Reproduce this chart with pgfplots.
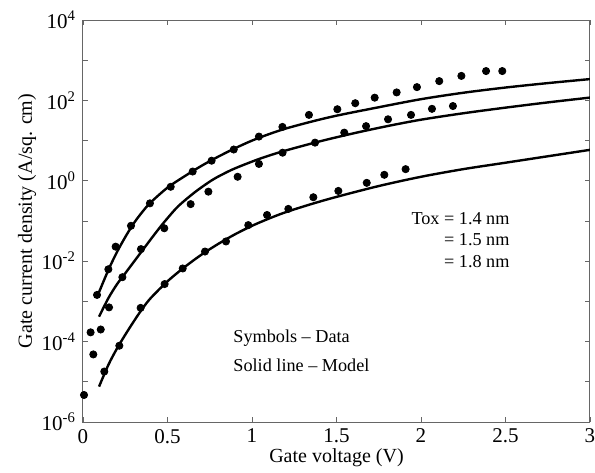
\documentclass[border=0pt]{standalone}
\usepackage{fontspec}
\setmainfont{Liberation Serif}
\usepackage{pgfplots}
\pgfplotsset{compat=1.18}

\begin{document}
\begin{tikzpicture}
  \begin{axis}[
    at={(0,0)}, anchor=south west,
    scale only axis, width=253.5pt, height=201pt,
    xmin=0, xmax=3,
    ymode=log, ymin=1e-6, ymax=1e4,
    xtick={0,0.5,1,1.5,2,2.5,3},
    xticklabels={0,0.5,1,1.5,2,2.5,3},
    ytick={1e-6,1e-5,1e-4,1e-3,1e-2,1e-1,1,1e1,1e2,1e3,1e4},
    yticklabels={10\textsuperscript{-6},,10\textsuperscript{-4},,10\textsuperscript{-2},,10\textsuperscript{0},,10\textsuperscript{2},,10\textsuperscript{4}},
    yminorticks=false,
    tick align=inside, major tick length=2.5pt,
    axis line style={gray!80!black, line width=0.5pt},
    every tick/.style={gray!80!black, line width=0.4pt},
    tick label style={font=\fontsize{10.5}{12}\selectfont},
    xlabel={Gate voltage (V)},
    ylabel={Gate current density (A/sq. cm)},
    label style={font=\fontsize{10.6}{12}\selectfont},
    every axis x label/.style={at={(axis description cs:0.5,-0.0896)}, anchor=center},
    every axis y label/.style={at={(axis description cs:-0.1105,0.5)}, rotate=90, anchor=center},
  ]
    % Tox = 1.4 nm data
    \addplot[only marks, mark=*, mark size=1.8pt, black] coordinates {
      (0.045,1.7e-4) (0.083,1.45e-3) (0.150,6.3e-3) (0.193,2.3e-2)
      (0.284,7.6e-2) (0.396,0.275) (0.519,0.71) (0.649,1.7)
      (0.761,3.16) (0.892,6.0) (1.041,12.6) (1.180,21.9)
      (1.337,43.6) (1.505,60.3) (1.611,85.1) (1.726,117)
      (1.856,158) (1.976,214) (2.108,302) (2.239,407)
      (2.385,537) (2.481,537) };
    % Tox = 1.5 nm data
    \addplot[only marks, mark=*, mark size=1.8pt, black] coordinates {
      (0.061,4.8e-5) (0.105,2.0e-4) (0.154,7.1e-4) (0.233,4.0e-3)
      (0.343,2.0e-2) (0.481,6.6e-2) (0.637,0.263) (0.742,0.537)
      (0.915,1.26) (1.041,2.63) (1.181,5.0) (1.373,8.9)
      (1.546,15.8) (1.675,22.9) (1.805,33.9) (1.941,43.6)
      (2.065,61.7) (2.189,72.4) };
    % Tox = 1.8 nm data
    \addplot[only marks, mark=*, mark size=1.8pt, black] coordinates {
      (0.006,4.7e-6) (0.126,1.8e-5) (0.215,7.9e-5) (0.341,6.9e-4)
      (0.483,2.7e-3) (0.590,6.6e-3) (0.722,1.74e-2) (0.846,3.1e-2)
      (0.978,7.9e-2) (1.089,0.141) (1.215,0.2) (1.363,0.39)
      (1.511,0.56) (1.679,0.89) (1.783,1.41) (1.909,1.95) };

    % model curves
    \addplot[black, line width=1.2pt, smooth] coordinates {
      (0.095,1.70e-3) (0.15,6.03e-3) (0.2,1.66e-2) (0.25,3.98e-2)
      (0.3,8.71e-2) (0.35,0.166) (0.4,0.288) (0.5,0.676)
      (0.6,1.288) (0.7,2.344) (0.8,3.981) (0.9,6.457)
      (1.0,10.0) (1.1,14.45) (1.2,19.95) (1.35,29.51)
      (1.5,41.69) (1.75,67.61) (2.0,107.2) (2.25,154.9)
      (2.5,208.9) (2.75,269.2) (3.0,338.8) };
    \addplot[black, line width=1.2pt, smooth] coordinates {
      (0.095,4.17e-4) (0.15,1.20e-3) (0.2,2.63e-3) (0.25,5.01e-3)
      (0.3,9.55e-3) (0.35,1.82e-2) (0.4,3.47e-2) (0.466,7.94e-2)
      (0.5,0.1175) (0.564,0.2344) (0.663,0.5248) (0.761,1.023)
      (0.83,1.479) (0.9,2.042) (1.04,3.467) (1.18,5.370)
      (1.4,9.550) (1.6,15.14) (1.8,22.91) (2.0,33.11)
      (2.25,47.86) (2.5,66.07) (2.75,89.13) (3.0,117.5) };
    \addplot[black, line width=1.2pt, smooth] coordinates {
      (0.095,7.59e-6) (0.15,2.63e-5) (0.2,6.61e-5) (0.25,1.48e-4)
      (0.3,3.16e-4) (0.35,6.46e-4) (0.4,1.20e-3) (0.5,3.16e-3)
      (0.6,7.08e-3) (0.7,1.445e-2) (0.8,2.69e-2) (0.9,4.68e-2)
      (1.0,7.59e-2) (1.1,0.1148) (1.2,0.166) (1.35,0.263)
      (1.5,0.398) (1.75,0.741) (2.0,1.259) (2.25,1.950)
      (2.5,2.818) (2.75,4.074) (3.0,5.888) };

    \begin{scope}[font=\fontsize{9.1}{11}\selectfont, inner sep=0pt]
      \node[anchor=east] at (rel axis cs:0.842,0.507) {Tox = 1.4 nm};
      \node[anchor=east] at (rel axis cs:0.842,0.453) {= 1.5 nm};
      \node[anchor=east] at (rel axis cs:0.842,0.398) {= 1.8 nm};
      \node[anchor=west] at (rel axis cs:0.296,0.209) {Symbols – Data};
      \node[anchor=west] at (rel axis cs:0.296,0.142) {Solid line – Model};
    \end{scope}
  \end{axis}
  \pgfresetboundingbox
  \path[use as bounding box] (-41.5pt,-25pt) rectangle (256pt,211pt);
\end{tikzpicture}
\end{document}
